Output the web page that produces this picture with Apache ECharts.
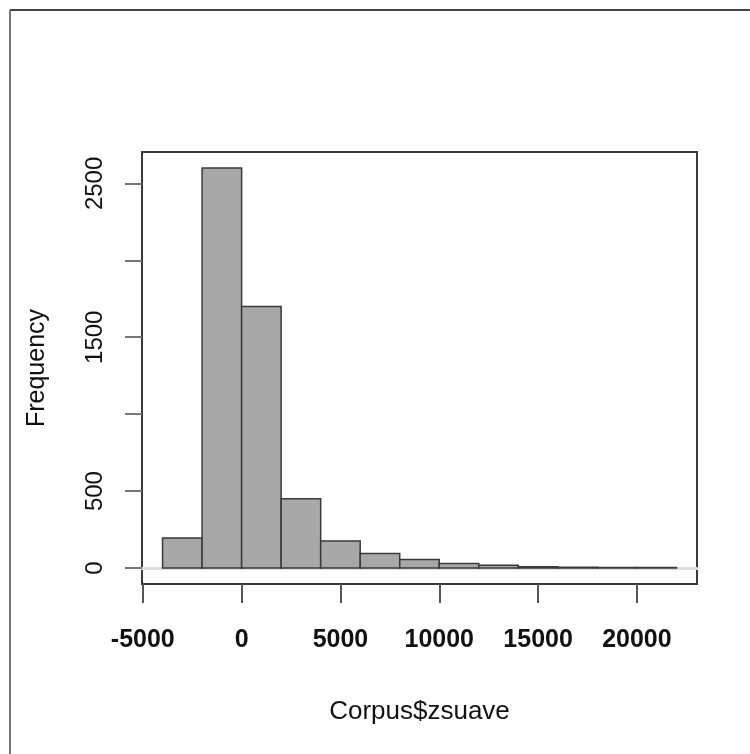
<!DOCTYPE html>
<html>
<head>
<meta charset="utf-8">
<script src="https://cdn.jsdelivr.net/npm/echarts@6/dist/echarts.min.js"></script>
<style>
  html, body { margin: 0; padding: 0; background: #fff; }
  #main { width: 750px; height: 754px; }
</style>
</head>
<body>
<div id="main"></div>
<script>
// histogram bins of Corpus$zsuave (width 2000)
var binStarts = [-4000, -2000, 0, 2000, 4000, 6000, 8000, 10000, 12000, 14000, 16000, 18000, 20000];
var binWidth = 2000;
var counts = [195, 2600, 1700, 450, 175, 95, 55, 30, 18, 8, 5, 4, 3];
var xTicks = [-5000, 0, 5000, 10000, 15000, 20000];
var yTicks = [0, 500, 1000, 1500, 2000, 2500];
var yLabels = [0, 500, 1500, 2500];

var chart = echarts.init(document.getElementById('main'));
var font = '"Liberation Sans", Arial, sans-serif';

var bars = binStarts.map(function(s, i) { return [s, s + binWidth, counts[i]]; });
var plain = function(v) { return String(v); };

var option = {
    backgroundColor: '#fff',
    animation: false,
    grid: {
        left: 142, top: 152, right: 53, bottom: 170,
        show: true, borderColor: '#3a3a3a', borderWidth: 2, backgroundColor: 'transparent'
    },
    xAxis: [{
        type: 'value',
        min: -5040, max: 23040,
        position: 'bottom',
        name: 'Corpus$zsuave',
        nameLocation: 'middle',
        nameGap: 115,
        nameTextStyle: { fontFamily: font, fontSize: 26, color: '#111' },
        axisLine: { show: false, onZero: false },
        splitLine: { show: false },
        axisTick: { show: true, inside: false, length: 19, lineStyle: { color: '#555', width: 2 }, customValues: xTicks },
        axisLabel: { fontFamily: font, fontSize: 25, fontWeight: 'bold', color: '#111', margin: 44, customValues: xTicks, formatter: plain }
    }, {
        // light zero line across the plot
        type: 'value',
        min: -5040, max: 23040,
        position: 'bottom',
        axisLine: { show: true, onZero: true, lineStyle: { color: '#dcdcdc', width: 3 } },
        axisTick: { show: false },
        axisLabel: { show: false },
        splitLine: { show: false }
    }],
    yAxis: {
        type: 'value',
        min: -104, max: 2704,
        position: 'left',
        name: 'Frequency',
        nameLocation: 'middle',
        nameGap: 92,
        nameRotate: 90,
        nameTextStyle: { fontFamily: font, fontSize: 25, color: '#111' },
        axisLine: { show: false, onZero: false },
        splitLine: { show: false },
        axisTick: { show: true, inside: false, length: 17, lineStyle: { color: '#777', width: 2 }, customValues: yTicks },
        axisLabel: { fontFamily: font, fontSize: 24, color: '#111', rotate: 90, margin: 35, customValues: yLabels, formatter: plain }
    },
    graphic: [
        { type: 'line', shape: { x1: 10, y1: 10, x2: 750, y2: 10 }, style: { stroke: '#444', lineWidth: 2 } },
        { type: 'line', shape: { x1: 10, y1: 10, x2: 10, y2: 754 }, style: { stroke: '#777', lineWidth: 2 } }
    ],
    series: [
        {
            type: 'custom',
            xAxisIndex: 0,
            data: bars,
            renderItem: function(params, api) {
                var p0 = api.coord([api.value(0), 0]);
                var p1 = api.coord([api.value(1), api.value(2)]);
                return {
                    type: 'rect',
                    shape: { x: p0[0], y: p1[1], width: p1[0] - p0[0], height: p0[1] - p1[1] },
                    style: { fill: '#a8a8a8', stroke: '#3a3a3a', lineWidth: 1.5 }
                };
            }
        }
    ]
};
chart.setOption(option);
</script>
</body>
</html>
